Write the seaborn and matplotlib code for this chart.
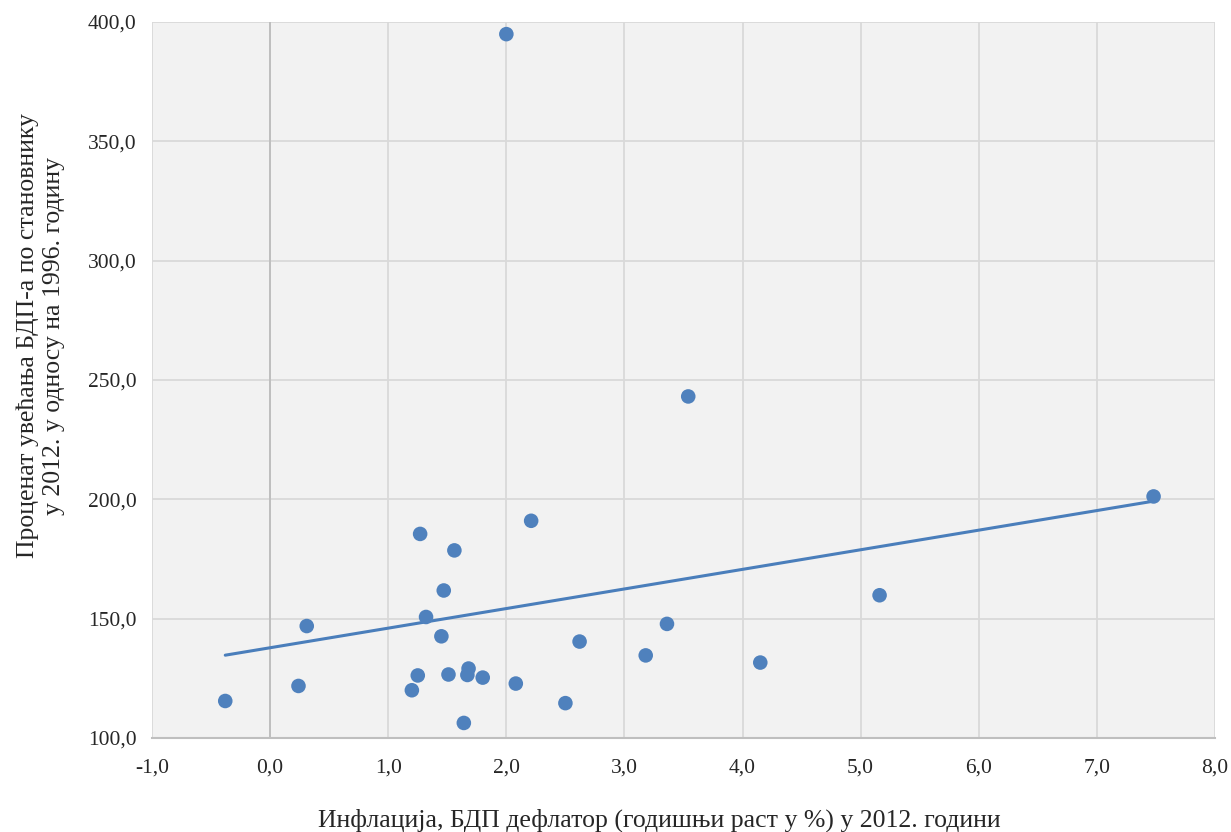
import numpy as np
import pandas as pd
import matplotlib
matplotlib.use('Agg')
import matplotlib.pyplot as plt
import seaborn as sns

# inflation (GDP deflator, %) in 2012
inflacija = [-0.38, 0.24, 0.31, 1.20, 1.25, 1.27, 1.32, 1.45, 1.47, 1.51, 1.56,
             1.64, 1.67, 1.68, 1.80, 2.00, 2.08, 2.21, 2.50, 2.62, 3.18, 3.36,
             3.54, 4.15, 5.16, 7.48]
# GDP per capita growth 2012 vs 1996, %
rast_bdp = [115.5, 121.8, 146.9, 120.0, 126.2, 185.5, 150.7, 142.6, 161.8, 126.6,
            178.6, 106.3, 126.4, 129.1, 125.3, 394.9, 122.8, 191.0, 114.6, 140.4,
            134.6, 147.8, 243.1, 131.6, 159.8, 201.2]

x_ticks = [-1, 0, 1, 2, 3, 4, 5, 6, 7, 8]
y_ticks = [100, 150, 200, 250, 300, 350, 400]

df = pd.DataFrame({'x': inflacija, 'y': rast_bdp})

sns.set_style('whitegrid', {'axes.facecolor': '#F2F2F2', 'grid.color': '#D9D9D9',
                            'axes.edgecolor': '#BFBFBF'})
plt.rcParams['font.family'] = ['Liberation Serif', 'DejaVu Serif']

fig = plt.figure(figsize=(12.31, 8.32), dpi=100)
ax = fig.add_axes([0.1235, 0.113, 0.8635, 0.8606])

sns.scatterplot(data=df, x='x', y='y', ax=ax, color='#4F81BD', s=110,
                edgecolor='none', zorder=3)

# linear trend line (least squares), from min to max x
k, n = np.polyfit(df['x'], df['y'], 1)
xs = np.array([df['x'].min(), df['x'].max()])
sns.lineplot(x=xs, y=k * xs + n, ax=ax, color='#4A7EBB', linewidth=2.2, zorder=2)

ax.set_xlim(-1, 8)
ax.set_ylim(100, 400)
ax.set_xticks(x_ticks)
ax.set_yticks(y_ticks)
ax.set_xticklabels([f'{v:.1f}'.replace('.', ',') for v in x_ticks])
ax.set_yticklabels([f'{v:.1f}'.replace('.', ',') for v in y_ticks])
ax.tick_params(axis='both', length=0, labelsize=15.5)
ax.tick_params(axis='x', pad=15)
ax.tick_params(axis='y', pad=11)
ax.axvline(0, color='#BFBFBF', linewidth=1.4, zorder=1)
for side in ['top', 'right', 'left']:
    ax.spines[side].set_visible(False)
ax.spines['bottom'].set_color('#BFBFBF')
ax.spines['bottom'].set_linewidth(1.5)
ax.grid(linewidth=1.3)

ax.set_xlabel('Инфлација, БДП дефлатор (годишњи раст у %) у 2012. години',
              fontsize=18.5)
ax.xaxis.set_label_coords(0.477, -0.098)
ax.set_ylabel('Проценат увећања БДП-а по становнику\nу 2012. у односу на 1996. годину',
              fontsize=18.5, linespacing=1.2)
ax.yaxis.set_label_coords(-0.082, 0.5615)

fig.savefig('out.png', dpi=100)
